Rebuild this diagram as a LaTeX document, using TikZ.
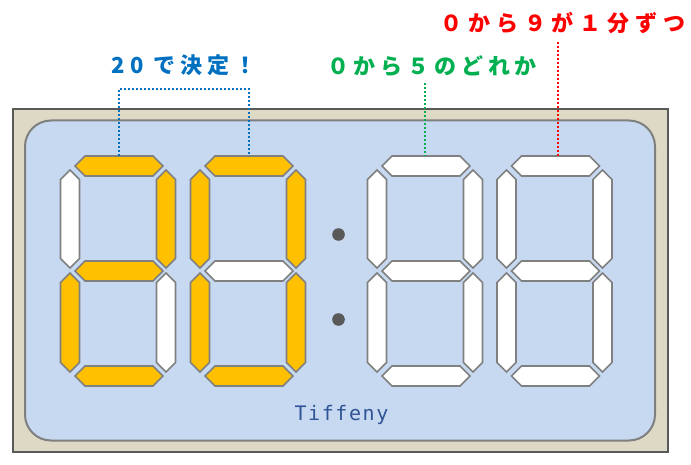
\documentclass[tikz,border=0pt]{standalone}
\usepackage{fontspec}
\newfontfamily\jpfont{Noto Sans CJK JP}[LetterSpace=22]
\newfontfamily\jpwidefont{Noto Sans CJK JP}[LetterSpace=27]
\newfontfamily\monofont{DejaVu Sans Mono}[LetterSpace=8]
\definecolor{framefill}{HTML}{DDD9C4}
\definecolor{framedraw}{HTML}{595959}
\definecolor{panelfill}{HTML}{C6D9F1}
\definecolor{paneldraw}{HTML}{7F7F7F}
\definecolor{segorange}{HTML}{FFC000}
\definecolor{segline}{HTML}{808080}
\definecolor{txtblue}{HTML}{0070C0}
\definecolor{txtgreen}{HTML}{00B050}
\definecolor{txtred}{HTML}{FF0000}
\definecolor{brand}{HTML}{2F5496}
\tikzset{
  segon/.style={draw=segline, line width=1.6pt, fill=segorange, line join=miter},
  segoff/.style={draw=segline, line width=1.6pt, fill=white, line join=miter},
  dotline/.style={line width=2pt, dash pattern=on 2pt off 2pt},
  label/.style={inner sep=0pt, font=\jpfont\bfseries\fontsize{22}{22}\selectfont},
  widelabel/.style={inner sep=0pt, font=\jpwidefont\bfseries\fontsize{22}{22}\selectfont},
}
% horizontal segment: x-start, x-end, y-center, style
\newcommand\hsegment[4]{\draw[#4] (#1,#3) -- (#1+10,#3-10) -- (#2-10,#3-10) -- (#2,#3) -- (#2-10,#3+10) -- (#1+10,#3+10) -- cycle;}
% vertical segment: x-center, y-top, y-bottom, style
\newcommand\vsegment[4]{\draw[#4] (#1,#2) -- (#1+9.5,#2+9.5) -- (#1+9.5,#3-9.5) -- (#1,#3) -- (#1-9.5,#3-9.5) -- (#1-9.5,#2+9.5) -- cycle;}
% seven segment digit: X, a(top), b(upper right), c(lower right), d(bottom), e(lower left), f(upper left), g(middle)
\newcommand\sevenseg[8]{%
  \hsegment{#1+5}{#1+93}{166}{#2}
  \vsegment{#1+96}{170}{268}{#3}
  \vsegment{#1+96}{273}{372}{#4}
  \hsegment{#1+5}{#1+93}{376}{#5}
  \vsegment{#1}{273}{372}{#6}
  \vsegment{#1}{170}{268}{#7}
  \hsegment{#1+5}{#1+93}{271}{#8}
}
\begin{document}
\begin{tikzpicture}[x=1pt,y=-1pt]
\path[use as bounding box] (0,0) rectangle (691,465);
% frame
\draw[line width=2.8pt, draw=framedraw, fill=framefill] (13,109) rectangle (668,452);
\draw[line width=2pt, draw=paneldraw, fill=panelfill, rounded corners=26pt] (25,120.5) rectangle (655,440.5);
% digits
\sevenseg{70}{segon}{segon}{segoff}{segon}{segon}{segoff}{segon}
\sevenseg{200}{segon}{segon}{segon}{segon}{segon}{segon}{segoff}
\sevenseg{377}{segoff}{segoff}{segoff}{segoff}{segoff}{segoff}{segoff}
\sevenseg{506.5}{segoff}{segoff}{segoff}{segoff}{segoff}{segoff}{segoff}
% colon
\fill[framedraw] (338.5,234.5) circle (6.3);
\fill[framedraw] (338.5,319.5) circle (6.3);
% brand
\node[inner sep=0pt, text=brand, font=\monofont\fontsize{20}{20}\selectfont] (brand) at (341.5,415) {Tiffeny};
% labels
\node[label, text=txtblue] (lblue) at (184,65) {20 で決定！};
\node[label, text=txtgreen] (lgreen) at (432,66) {０から５のどれか};
\node[widelabel, text=txtred] (lred) at (563,22.5) {０から９が１分ずつ};
% connector anchors
\coordinate (d1top) at (119,156);
\coordinate (d2top) at (249,156);
\coordinate (d3top) at (424.5,156);
\coordinate (d4top) at (557.5,156);
\coordinate (bl) at (119,89);
\coordinate (br) at (249,89);
\coordinate (gtop) at (424.5,83);
\coordinate (rtop) at (557.5,42);
\draw[dotline, txtblue] (d1top) -- (bl) -- (br) -- (d2top);
\draw[dotline, txtgreen] (gtop) -- (d3top);
\draw[dotline, txtred] (rtop) -- (d4top);
\end{tikzpicture}
\end{document}
